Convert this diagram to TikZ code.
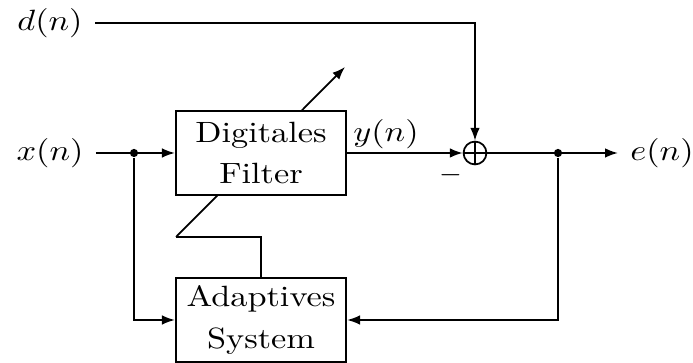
\documentclass[tikz,border=0pt]{standalone}
\usetikzlibrary{positioning,arrows.meta}
\tikzset{
  block/.style={draw, fill=white, xscale=1.17, minimum width=49.6pt, minimum height=28.6pt,
    inner sep=0pt, align=center, font=\fontsize{10}{14}\selectfont},
  sig/.style={xscale=1.17},
  junction/.style={circle, fill, inner sep=0pt, minimum size=2.8pt},
  summer/.style={circle, draw, inner sep=0pt, minimum size=7.8pt,
    path picture={\draw (path picture bounding box.north)--(path picture bounding box.south)
      (path picture bounding box.west)--(path picture bounding box.east);}}
}
\begin{document}
\begin{tikzpicture}[x=0.341pt,y=0.341pt,> = {Latex[length=4.4pt,width=3.3pt]},line width=0.6pt]
    \useasboundingbox (0,0) rectangle (693,363);
    % Stellpfeil quer durch das Filter
    \coordinate (k1) at (176,126);
    \coordinate (k2) at (345,296);
    \draw[->] (k1)--(k2);
    %%%%%%%%
    \node[block] (filter) at (261,210) {Digitales\\Filter};
    \node[block] (adapt) at (261,43) {Adaptives\\System};
    \node[summer] (sum) at (475,210) {};
    \node[sig] (d) at (50,340) {$d(n)$};
    \node[sig] (x) at (50,210) {$x(n)$};
    \node[sig] (e) at (662,210) {$e(n)$};
    \node[sig] (y) at (386,229) {$y(n)$};
    \node (minus) at (451,188) {$-$};
    \node[junction] (j1) at (134,210) {};
    \node[junction] (j2) at (558,210) {};
    %%%%%%%%
    \draw[->] (d.east) -| (sum.north);
    \draw[->] (x.east)--(filter.west);
    \draw[->] (j1) |- (adapt.west);
    \draw[->] (filter.east)--(sum.west);
    \draw[->] (sum.east)--(e.west);
    \draw[->] (j2) |- (adapt.east);
    \draw (k1) -| (adapt.north);
\end{tikzpicture}
\end{document}
